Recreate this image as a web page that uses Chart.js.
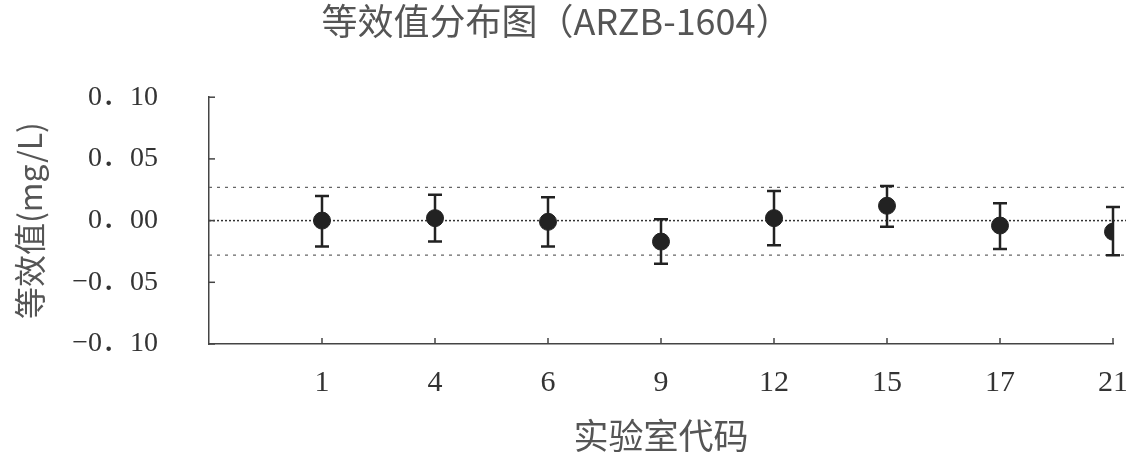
<!DOCTYPE html>
<html>
<head>
<meta charset="utf-8">
<script src="https://cdn.jsdelivr.net/npm/chart.js@4.4.1/dist/chart.umd.min.js"></script>
<style>
  body { margin: 0; background: #fff; }
  #wrap { width: 1126px; height: 457px; }
</style>
</head>
<body>
<div id="wrap"><canvas id="chart"></canvas></div>
<script>
// lab codes and equivalent values (mg/L)
const labs = ["1", "4", "6", "9", "12", "15", "17", "21"];
const means = [0.000, 0.002, -0.001, -0.017, 0.002, 0.012, -0.004, -0.009];
const upper = [0.020, 0.021, 0.019, 0.001, 0.024, 0.028, 0.014, 0.011];
const lower = [-0.021, -0.017, -0.021, -0.035, -0.020, -0.005, -0.023, -0.028];
const limitHigh = 0.027;
const limitLow = -0.028;
const yTicks = [-0.10, -0.05, 0.00, 0.05, 0.10];
const yTickLabels = ["−0．10", "−0．05", "0．00", "0．05", "0．10"];

const ink = "#222";

// error bars, zero line and limit lines, all placed through the scales
const errorBars = {
    id: "errorBars",
    beforeDatasetsDraw(chart) {
        const ctx = chart.ctx;
        const x = chart.scales.x, y = chart.scales.y;
        const area = chart.chartArea;
        ctx.save();

        // zero line
        ctx.strokeStyle = "#333";
        ctx.lineWidth = 1.5;
        ctx.setLineDash([2, 2]);
        let y0 = y.getPixelForValue(0);
        ctx.beginPath();
        ctx.moveTo(area.left, y0);
        ctx.lineTo(chart.width, y0);
        ctx.stroke();

        // limit lines
        ctx.strokeStyle = "#666";
        ctx.lineWidth = 1.2;
        ctx.setLineDash([3, 5]);
        [limitHigh, limitLow].forEach(v => {
            let py = y.getPixelForValue(v);
            ctx.beginPath();
            ctx.moveTo(area.left, py);
            ctx.lineTo(chart.width, py);
            ctx.stroke();
        });

        // small inward ticks
        ctx.setLineDash([]);
        ctx.strokeStyle = "#444";
        ctx.lineWidth = 1.5;
        yTicks.forEach(v => {
            let py = y.getPixelForValue(v);
            ctx.beginPath();
            ctx.moveTo(area.left, py);
            ctx.lineTo(area.left + 6, py);
            ctx.stroke();
        });
        labs.forEach((_, i) => {
            let px = x.getPixelForValue(i + 1);
            ctx.beginPath();
            ctx.moveTo(px, area.bottom);
            ctx.lineTo(px, area.bottom - 6);
            ctx.stroke();
        });

        // error bars
        ctx.strokeStyle = ink;
        ctx.lineWidth = 2.5;
        labs.forEach((_, i) => {
            let px = x.getPixelForValue(i + 1);
            let top = y.getPixelForValue(upper[i]);
            let bot = y.getPixelForValue(lower[i]);
            ctx.beginPath();
            ctx.moveTo(px, top);
            ctx.lineTo(px, bot);
            ctx.moveTo(px - 7, top);
            ctx.lineTo(px + 7, top);
            ctx.moveTo(px - 7, bot);
            ctx.lineTo(px + 7, bot);
            ctx.stroke();
        });
        ctx.restore();
    }
};

new Chart(document.getElementById("chart"), {
    type: "scatter",
    data: {
        datasets: [{
            label: "等效值",
            data: labs.map((_, i) => ({ x: i + 1, y: means[i] })),
            backgroundColor: ink,
            borderColor: ink,
            pointRadius: 8.5,
            pointHoverRadius: 8.5
        }]
    },
    options: {
        responsive: true,
        maintainAspectRatio: false,
        animation: false,
        layout: { padding: { left: 0, right: 13, top: 0, bottom: 0 } },
        plugins: {
            legend: { display: false },
            tooltip: { enabled: false },
            title: {
                display: true,
                text: "等效值分布图（ARZB-1604）",
                color: "#555",
                font: { family: "'Noto Sans CJK SC', 'Liberation Serif'", size: 36, weight: "normal" },
                padding: { top: 0, bottom: 54 }
            }
        },
        scales: {
            x: {
                type: "linear",
                min: 0,
                max: labs.length,
                afterBuildTicks: s => { s.ticks = labs.map((_, i) => ({ value: i + 1 })); },
                afterFit: s => { s.height = 113; s.paddingLeft = 0; s.paddingRight = 0; },
                ticks: {
                    callback: v => labs[v - 1],
                    color: "#333",
                    padding: 21,
                    maxRotation: 0,
                    font: { family: "'Liberation Serif'", size: 30 }
                },
                grid: { drawOnChartArea: false, drawTicks: false },
                border: { display: true, color: "#444", width: 1.5, dash: [2, 2] },
                title: {
                    display: true,
                    text: "实验室代码",
                    color: "#555",
                    font: { family: "'Noto Sans CJK SC'", size: 35 },
                    padding: { top: 0, bottom: 0 }
                }
            },
            y: {
                min: -0.1,
                max: 0.1,
                afterBuildTicks: s => { s.ticks = yTicks.map(v => ({ value: v })); },
                afterFit: s => { s.width = 209; },
                ticks: {
                    callback: (v, i) => yTickLabels[i],
                    color: "#333",
                    padding: 51,
                    font: { family: "'Liberation Serif', 'Noto Sans CJK SC'", size: 28 }
                },
                grid: { drawOnChartArea: false, drawTicks: false },
                border: { display: true, color: "#444", width: 1.5, dash: [2, 2] },
                title: {
                    display: true,
                    text: "等效值(mg/L)",
                    color: "#555",
                    font: { family: "'Noto Sans CJK SC'", size: 32 },
                    padding: { top: 11, bottom: 0 }
                }
            }
        }
    },
    plugins: [errorBars]
});
</script>
</body>
</html>
